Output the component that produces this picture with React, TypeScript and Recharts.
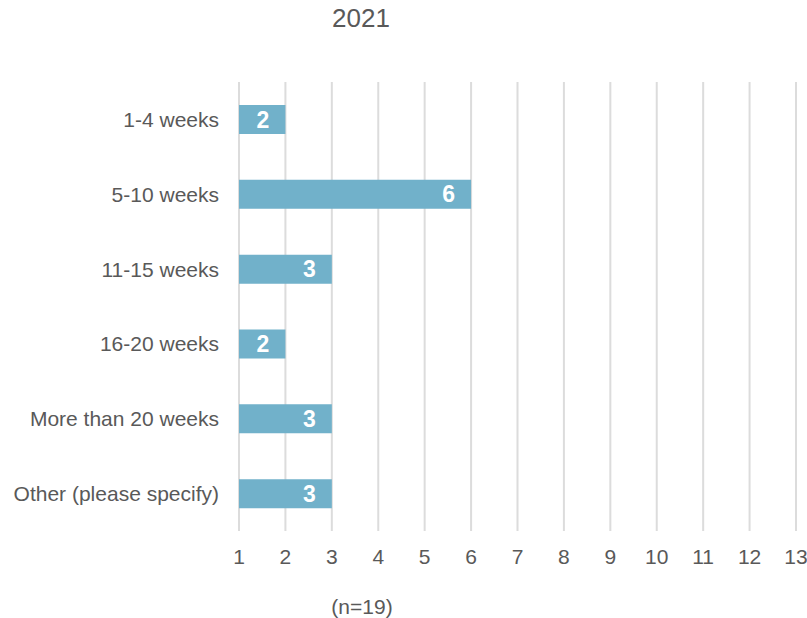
import { Bar, BarChart, CartesianGrid, LabelList, XAxis, YAxis } from "recharts"

const categories = [
  "1-4 weeks",
  "5-10 weeks",
  "11-15 weeks",
  "16-20 weeks",
  "More than 20 weeks",
  "Other (please specify)",
]
const counts = [2, 6, 3, 2, 3, 3]
const xTicks = [1, 2, 3, 4, 5, 6, 7, 8, 9, 10, 11, 12, 13]

const data = categories.map((name, i) => ({ name, value: counts[i] }))

const textColor = "#595959"
const font = "'Liberation Sans', Arial, sans-serif"

export default function App() {
  return (
    <div style={{ position: "absolute", left: 0, top: 0, width: 807, height: 618, fontFamily: font }}>
      <div style={{ position: "absolute", left: 261, width: 200, top: 3, textAlign: "center", fontSize: 26, color: textColor }}>
        2021
      </div>
      <BarChart
        width={807}
        height={618}
        data={data}
        layout="vertical"
        margin={{ top: 82, right: 11, bottom: 47, left: 0 }}
      >
        <CartesianGrid horizontal={false} stroke="#dcdcdc" strokeWidth={2} />
        <XAxis
          type="number"
          domain={[1, 13]}
          ticks={xTicks}
          interval={0}
          axisLine={false}
          tickLine={false}
          tickSize={0}
          tickMargin={18}
          height={40}
          tick={{ fill: textColor, fontSize: 21, fontFamily: font }}
        />
        <YAxis
          type="category"
          dataKey="name"
          width={239}
          axisLine={false}
          tickLine={false}
          tickSize={0}
          tickMargin={20}
          interval={0}
          tick={{ fill: textColor, fontSize: 21, fontFamily: font }}
        />
        <Bar dataKey="value" fill="#71b1ca" barSize={29} isAnimationActive={false}>
          <LabelList
            dataKey="value"
            position="insideRight"
            offset={16}
            fill="#ffffff"
            style={{ fontSize: 23, fontWeight: "bold", fontFamily: font }}
          />
        </Bar>
      </BarChart>
      <div
        style={{
          position: "absolute",
          left: 262,
          width: 200,
          top: 596,
          lineHeight: "21px",
          textAlign: "center",
          fontSize: 21,
          color: textColor,
        }}
      >
        (n=19)
      </div>
    </div>
  )
}
